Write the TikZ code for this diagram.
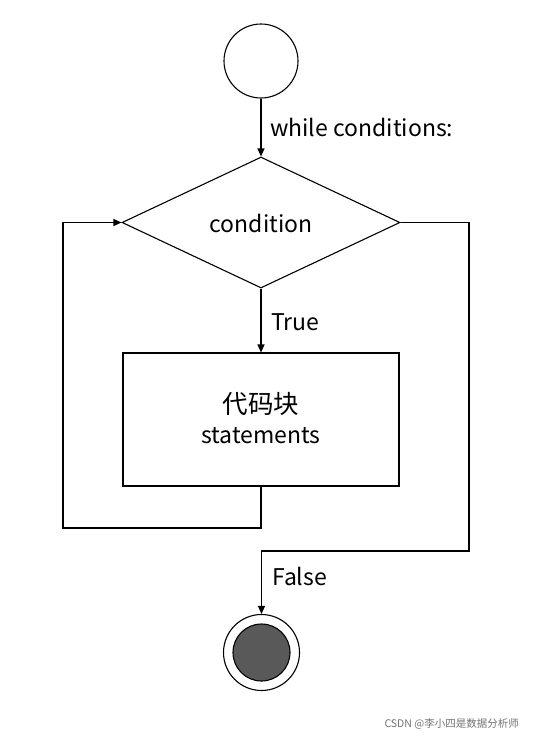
\documentclass[tikz,border=0pt]{standalone}
\usepackage{fontspec}
\setmainfont{Noto Sans CJK SC}
\usetikzlibrary{shapes.geometric,arrows.meta}
\begin{document}
\begin{tikzpicture}[x=1pt,y=-1pt,
  line/.style={line width=1.1pt,draw=black},
  arr/.style={line, -{Triangle[length=8pt,width=7pt]}},
  lbl/.style={font=\fontsize{23}{26}\selectfont, inner sep=0pt},
]
\useasboundingbox (0,0) rectangle (533,740);
\fill[white] (0,0) rectangle (533,740);
% start
\node[circle, line, minimum size=74pt, inner sep=0pt] (start) at (261,61) {};
% decision
\node[diamond, line, minimum width=278pt, minimum height=131pt, inner sep=0pt, aspect=2.12] (cond) at (261,222.5) {};
\node[lbl] (condt) at (261,223) {condition};
% process
\node[rectangle, line, minimum width=276pt, minimum height=133pt, inner sep=0pt] (proc) at (261,419.5) {};
\node[lbl, font=\fontsize{25.5}{28}\selectfont] (pt1) at (261,404) {代码块};
\node[lbl] (pt2) at (261,436) {statements};
% end
\node[circle, line, minimum size=76pt, inner sep=0pt] (stop) at (261.5,652.5) {};
\node[circle, draw=black, line width=1.1pt, fill=black!65, minimum size=57pt, inner sep=0pt] (stopin) at (261.5,652.5) {};
% labels
\node[lbl, anchor=west] (lw) at (270,127) {while conditions:};
\node[lbl, anchor=west] (lt) at (271,322) {True};
\node[lbl, anchor=west] (lf) at (272,576) {False};
% connectors
\draw[arr] (start.south) -- (cond.north);
\draw[arr] (cond.south) -- (proc.north);
\coordinate (l1) at (261,528);
\coordinate (l2) at (63,528);
\coordinate (l3) at (63,222.5);
\draw[arr] (proc.south) -- (l1) -- (l2) -- (l3) -- (cond.west);
\coordinate (r1) at (469,222.5);
\coordinate (r2) at (469,551);
\coordinate (r3) at (261.5,551);
\draw[arr] (cond.east) -- (r1) -- (r2) -- (r3) -- (stop.north);
% watermark
\node[font=\fontsize{10.5}{12}\selectfont, text=black!55, anchor=east, inner sep=0pt] (wm) at (519,724) {CSDN @李小四是数据分析师};
\end{tikzpicture}
\end{document}
